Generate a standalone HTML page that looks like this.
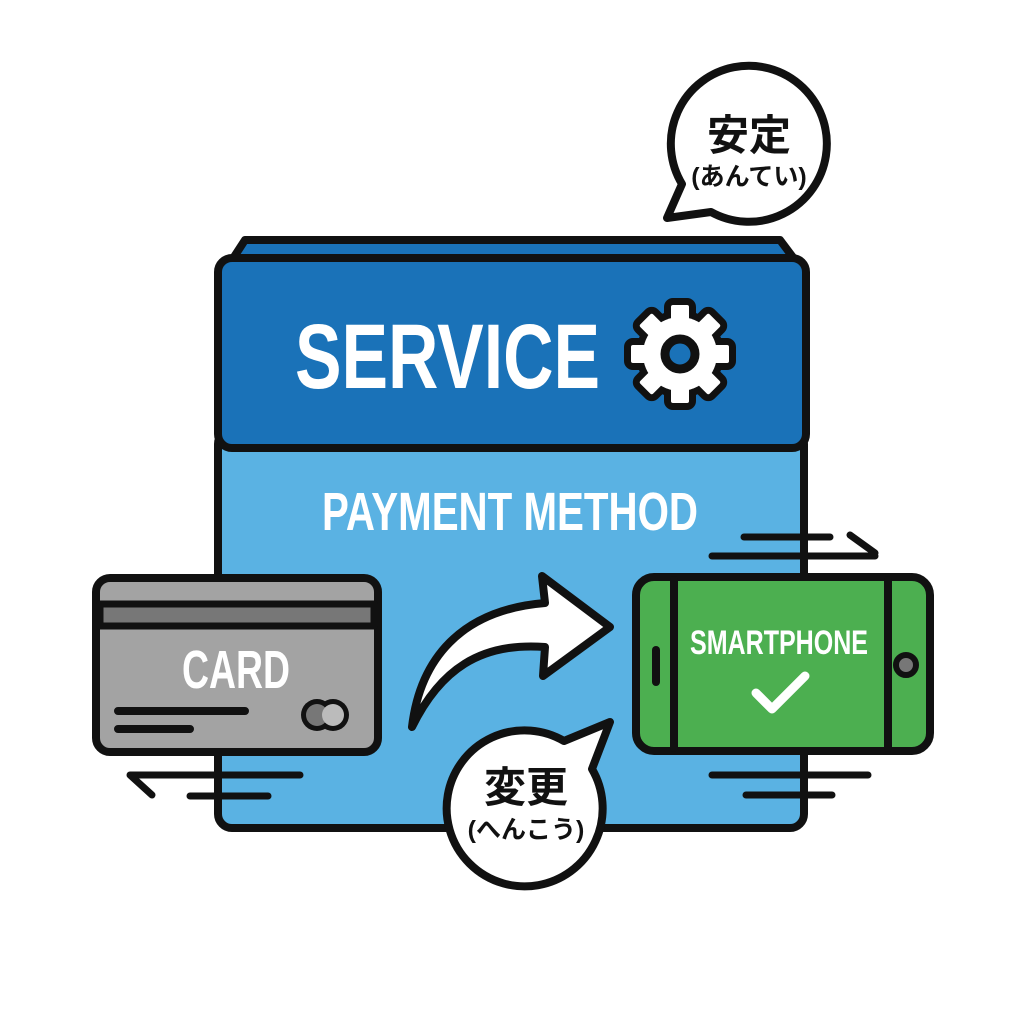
<!DOCTYPE html>
<html><head><meta charset="utf-8"><style>html,body{margin:0;padding:0;background:#fff}svg{display:block}</style></head>
<body>
<svg width="1024" height="1024" viewBox="0 0 1024 1024" xmlns="http://www.w3.org/2000/svg" stroke-linecap="round" stroke-linejoin="round">
<defs>
<g id="gshape">
<circle r="37"/>
<rect x="-9" y="-49" width="18" height="24" rx="2"/>
<rect x="-9" y="-49" width="18" height="24" rx="2" transform="rotate(45)"/>
<rect x="-9" y="-49" width="18" height="24" rx="2" transform="rotate(90)"/>
<rect x="-9" y="-49" width="18" height="24" rx="2" transform="rotate(135)"/>
<rect x="-9" y="-49" width="18" height="24" rx="2" transform="rotate(180)"/>
<rect x="-9" y="-49" width="18" height="24" rx="2" transform="rotate(225)"/>
<rect x="-9" y="-49" width="18" height="24" rx="2" transform="rotate(270)"/>
<rect x="-9" y="-49" width="18" height="24" rx="2" transform="rotate(315)"/>
</g>
</defs>
<rect width="1024" height="1024" fill="#fff"/>
<!-- back slab -->
<path d="M232 260 L245 240 L780 240 L795 260 Z" fill="#1a72b8" stroke="#111" stroke-width="8"/>
<!-- lower light box -->
<rect x="218" y="430" width="586" height="398" rx="14" fill="#5ab2e3" stroke="#111" stroke-width="8"/>
<!-- header -->
<rect x="218" y="258" width="588" height="190" rx="14" fill="#1a72b8" stroke="#111" stroke-width="8"/>
<text x="295" y="388" font-family="Liberation Sans, sans-serif" font-weight="bold" font-size="92" fill="#fff" textLength="305" lengthAdjust="spacingAndGlyphs">SERVICE</text>
<!-- gear -->
<g transform="translate(680,354)">
<use href="#gshape" fill="#111" stroke="#111" stroke-width="14"/>
<use href="#gshape" fill="#fff"/>
<circle r="15" fill="#1a72b8" stroke="#111" stroke-width="9"/>
</g>
<text x="322" y="530" font-family="Liberation Sans, sans-serif" font-weight="bold" font-size="54" fill="#fff" textLength="376" lengthAdjust="spacingAndGlyphs">PAYMENT METHOD</text>
<!-- speed lines -->
<g stroke="#111" stroke-width="7" fill="none">
<path d="M130 775 L300 775 M190 796 L268 796 M130 775 L152 795"/>
<path d="M744 537 L830 537 M712 556 L875 556 M850 535 L875 553"/>
<path d="M712 775 L868 775 M746 795 L832 795"/>
</g>
<!-- card -->
<rect x="96" y="578" width="282" height="174" rx="14" fill="#a3a3a3" stroke="#111" stroke-width="8"/>
<rect x="100" y="604" width="274" height="22" fill="#777" stroke="#111" stroke-width="7"/>
<text x="182" y="688" font-family="Liberation Sans, sans-serif" font-weight="bold" font-size="54" fill="#fff" textLength="108" lengthAdjust="spacingAndGlyphs">CARD</text>
<path d="M118 711 L245 711 M118 729 L190 729" stroke="#111" stroke-width="8"/>
<circle cx="317" cy="715" r="16" fill="#111"/>
<circle cx="333" cy="715" r="16" fill="#111"/>
<circle cx="317" cy="715" r="11" fill="#777"/>
<circle cx="333" cy="715" r="11" fill="#bbb"/>
<!-- curved arrow -->
<path d="M412 727 C420 660 460 610 545 603 L542 576 L610 627 L543 676 L545 647 C480 642 440 670 412 727 Z" fill="#fff" stroke="#111" stroke-width="8"/>
<!-- phone -->
<rect x="636" y="577" width="294" height="174" rx="18" fill="#4caf50" stroke="#111" stroke-width="8"/>
<path d="M674 580 L674 748 M888 580 L888 748" stroke="#111" stroke-width="8"/>
<path d="M656 650 L656 682" stroke="#111" stroke-width="8"/>
<circle cx="906" cy="665" r="10" fill="#777" stroke="#111" stroke-width="6"/>
<text x="690" y="654" font-family="Liberation Sans, sans-serif" font-weight="bold" font-size="34" fill="#fff" textLength="178" lengthAdjust="spacingAndGlyphs">SMARTPHONE</text>
<path d="M756 693 L772 709 L805 676" fill="none" stroke="#fff" stroke-width="9"/>
<!-- bottom bubble -->
<path d="M564 741 L610 722 L592 769 A78 78 0 1 1 564 741 Z" fill="#fff" stroke="#111" stroke-width="8"/>
<text x="526" y="802" text-anchor="middle" font-family="Liberation Sans, Noto Sans CJK JP, sans-serif" font-weight="bold" font-size="42" fill="#111">変更</text>
<text x="526" y="838" text-anchor="middle" font-family="Liberation Sans, Noto Sans CJK JP, sans-serif" font-weight="bold" font-size="25" fill="#111">(へんこう)</text>
<!-- top bubble -->
<path d="M711 212 L667 218 L682 184 A78 78 0 1 1 711 212 Z" fill="#fff" stroke="#111" stroke-width="8"/>
<text x="749" y="150" text-anchor="middle" font-family="Liberation Sans, Noto Sans CJK JP, sans-serif" font-weight="bold" font-size="42" fill="#111">安定</text>
<text x="749" y="185" text-anchor="middle" font-family="Liberation Sans, Noto Sans CJK JP, sans-serif" font-weight="bold" font-size="25" fill="#111">(あんてい)</text>
</svg>
</body></html>
